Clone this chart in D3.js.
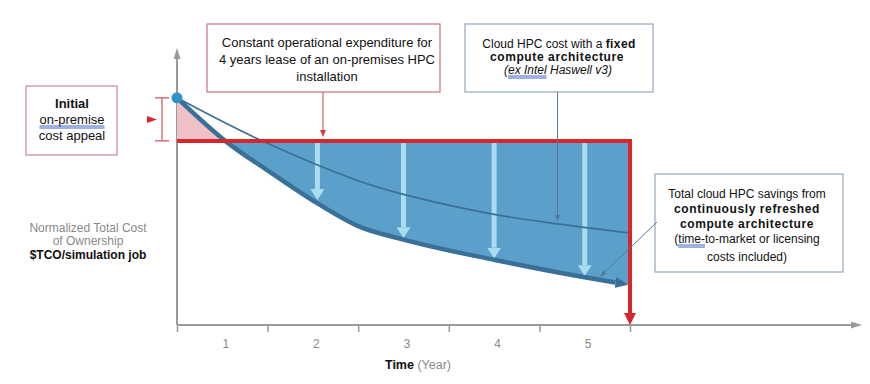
<!DOCTYPE html>
<html>
<head>
<meta charset="utf-8">
<script src="https://cdn.jsdelivr.net/npm/d3@7"></script>
<style>
  body { margin: 0; background: #fff; }
  svg { display: block; font-family: "Liberation Sans", Arial, sans-serif; }
</style>
</head>
<body>
<svg id="chart" width="870" height="384"></svg>
<script>
// ==========================================================================
// DATA (normalized TCO per simulation job, time in years)
// ==========================================================================
const years = [0, 1, 2, 3, 4, 5];
const tickLabels = ['1', '2', '3', '4', '5'];

const startCost = 1.0;
const onPremCost = 0.81;

// Cloud HPC cost, fixed compute architecture (thin line)
const fixedYears = [0, 0.92, 2.0, 2.5, 3.5, 4.2, 5.0];
const fixedCost  = [1.0, 0.814, 0.635, 0.575, 0.487, 0.445, 0.405];

// Cloud HPC cost, continuously refreshed architecture (thick line)
const refreshedYears = [0, 0.55, 1.0, 1.55, 2.0, 2.5, 3.5, 4.5, 4.84, 5.0];
const refreshedCost  = [1.0, 0.805, 0.68, 0.535, 0.435, 0.376, 0.287, 0.21, 0.187, 0.176];

// savings arrows
const arrowYears = [1.55, 2.5, 3.5, 4.5];
const arrowCost  = [0.55, 0.382, 0.292, 0.215];

// ==========================================================================
// SETUP
// ==========================================================================
const svg = d3.select('#chart');
const x = d3.scaleLinear().domain([0, 5]).range([177, 630]);
const y = d3.scaleLinear().domain([0, 1.25]).range([325, 41]);

const C = {
    axis: '#9a9a9a',
    red: '#d6272e',
    pink: '#efc1c7',
    blue: '#5b9fcb',
    dark: '#3a6f97',
    light: '#a9dcef',
    dot: '#2f94c2',
    grayText: '#8a8a8a'
};

const defs = svg.append('defs');
function marker(id, color, len, wid) {
    defs.append('marker')
        .attr('id', id)
        .attr('viewBox', '0 0 10 10')
        .attr('refX', 0).attr('refY', 5)
        .attr('markerUnits', 'userSpaceOnUse')
        .attr('markerWidth', len).attr('markerHeight', wid)
        .attr('preserveAspectRatio', 'none')
        .attr('orient', 'auto')
        .append('path')
        .attr('d', 'M0,0L10,5L0,10Z')
        .attr('fill', color);
}
marker('m-axis', C.axis, 11, 7);
marker('m-red', C.red, 12, 12);
marker('m-redthin', '#c9424a', 7, 6);
marker('m-dark', C.dark, 13, 11);
marker('m-light', C.light, 11, 14);
marker('m-note', '#55799a', 7, 5);

const refreshed = refreshedYears.map((t, i) => ({ t, v: refreshedCost[i] }));
const fixed = fixedYears.map((t, i) => ({ t, v: fixedCost[i] }));

// ==========================================================================
// AXES
// ==========================================================================
svg.append('line')
    .attr('x1', x(0)).attr('y1', y(0)).attr('x2', x(0)).attr('y2', 59)
    .attr('stroke', C.axis).attr('stroke-width', 2)
    .attr('marker-end', 'url(#m-axis)');
svg.append('line')
    .attr('x1', x(0)).attr('y1', y(0)).attr('x2', 851).attr('y2', y(0))
    .attr('stroke', C.axis).attr('stroke-width', 2)
    .attr('marker-end', 'url(#m-axis)');

const tickAxis = svg.append('g')
    .attr('transform', `translate(0,${y(0)})`)
    .call(d3.axisBottom(x).tickValues(years).tickSize(7).tickFormat(''));
tickAxis.select('.domain').remove();
tickAxis.selectAll('.tick line').attr('stroke', C.axis).attr('stroke-width', 1.5);

const labelAxis = svg.append('g')
    .attr('transform', `translate(3,${y(0)})`)
    .call(d3.axisBottom(x)
        .tickValues(tickLabels.map((d, i) => i + 0.5))
        .tickSize(0).tickPadding(14)
        .tickFormat((d, i) => tickLabels[i]));
labelAxis.select('.domain').remove();
labelAxis.selectAll('text')
    .attr('font-family', '"Liberation Sans", Arial, sans-serif')
    .attr('font-size', 12).attr('fill', C.grayText);

const xTitle = svg.append('text')
    .attr('x', 418).attr('y', 369).attr('text-anchor', 'middle')
    .attr('font-size', 12.5);
xTitle.append('tspan').attr('font-weight', 'bold').attr('fill', '#111').text('Time');
xTitle.append('tspan').attr('fill', C.grayText).text(' (Year)');

const yTitle = svg.append('text').attr('text-anchor', 'middle').attr('font-size', 12);
yTitle.append('tspan').attr('x', 88).attr('y', 232).attr('fill', C.grayText).text('Normalized Total Cost');
yTitle.append('tspan').attr('x', 88).attr('y', 245).attr('fill', C.grayText).text('of Ownership');
yTitle.append('tspan').attr('x', 88).attr('y', 259).attr('fill', '#111')
    .attr('font-weight', 'bold').text('$TCO/simulation job');

// ==========================================================================
// AREAS (pink above on-prem level, blue savings below it)
// ==========================================================================
defs.append('clipPath').attr('id', 'clip-above')
    .append('rect').attr('x', x(0)).attr('y', 0)
    .attr('width', x(5) - x(0)).attr('height', y(onPremCost));
defs.append('clipPath').attr('id', 'clip-below')
    .append('rect').attr('x', x(0)).attr('y', y(onPremCost))
    .attr('width', x(5) - x(0)).attr('height', y(0) - y(onPremCost));

const gapArea = d3.area()
    .x(d => x(d.t))
    .y0(y(onPremCost))
    .y1(d => y(d.v))
    .curve(d3.curveMonotoneX);

svg.append('path').datum(refreshed)
    .attr('d', gapArea).attr('fill', C.pink)
    .attr('clip-path', 'url(#clip-above)');
svg.append('path').datum(refreshed)
    .attr('d', gapArea).attr('fill', C.blue)
    .attr('clip-path', 'url(#clip-below)');

// savings arrows
svg.append('g').selectAll('line')
    .data(arrowYears.map((t, i) => ({ t, v: arrowCost[i] })))
    .enter().append('line')
    .attr('x1', d => x(d.t)).attr('x2', d => x(d.t))
    .attr('y1', y(onPremCost) + 2)
    .attr('y2', d => y(d.v) - 11)
    .attr('stroke', C.light).attr('stroke-width', 5)
    .attr('marker-end', 'url(#m-light)');

// ==========================================================================
// LINES
// ==========================================================================
const line = d3.line().x(d => x(d.t)).y(d => y(d.v)).curve(d3.curveMonotoneX);

svg.append('path').datum(fixed)
    .attr('d', d3.line().x(d => x(d.t)).y(d => y(d.v)).curve(d3.curveCatmullRom.alpha(0.5)))
    .attr('fill', 'none')
    .attr('stroke', C.dark).attr('stroke-width', 1.6);

svg.append('path').datum(refreshed.slice(0, -1))
    .attr('d', line).attr('fill', 'none')
    .attr('stroke', C.dark).attr('stroke-width', 4.5)
    .attr('stroke-linejoin', 'round')
    .attr('marker-end', 'url(#m-dark)');

// on-premise constant cost
svg.append('path')
    .attr('d', `M${x(0)},${y(onPremCost)}H${x(5)}V${y(0) - 12}`)
    .attr('fill', 'none').attr('stroke', C.red).attr('stroke-width', 4)
    .attr('marker-end', 'url(#m-red)');

svg.append('circle')
    .attr('cx', x(0)).attr('cy', y(startCost)).attr('r', 5.5)
    .attr('fill', C.dot);

// ==========================================================================
// ANNOTATIONS
// ==========================================================================
function box(x0, y0, w, h, stroke) {
    svg.append('rect').attr('x', x0).attr('y', y0).attr('width', w).attr('height', h)
        .attr('fill', '#fff').attr('stroke', stroke).attr('stroke-width', 1.2);
}
function underline(textNode, from, count, dy) {
    const start = textNode.getStartPositionOfChar(from).x;
    const len = textNode.getSubStringLength(from, count);
    const yy = textNode.getStartPositionOfChar(from).y + dy;
    [0, 2].forEach(o => svg.append('line')
        .attr('x1', start).attr('x2', start + len)
        .attr('y1', yy + o).attr('y2', yy + o)
        .attr('stroke', '#3f63bf').attr('stroke-width', 1));
}

// Initial cost appeal
box(26, 86, 91, 69, '#c98d95');
svg.append('text').attr('x', 72).attr('y', 108).attr('text-anchor', 'middle')
    .attr('font-size', 13).attr('font-weight', 'bold').attr('fill', '#111').text('Initial');
const onPrem = svg.append('text').attr('x', 72).attr('y', 124).attr('text-anchor', 'middle')
    .attr('font-size', 13).attr('fill', '#111').text('on-premise');
underline(onPrem.node(), 0, 10, 2);
svg.append('text').attr('x', 72).attr('y', 140).attr('text-anchor', 'middle')
    .attr('font-size', 13).attr('fill', '#111').text('cost appeal');

// bracket + pointer
const bx = 162;
const mid = (y(startCost) + y(onPremCost)) / 2;
svg.append('path')
    .attr('d', `M${bx - 7},${y(startCost)}H${bx + 7}M${bx},${y(startCost)}V${y(onPremCost)}M${bx - 7},${y(onPremCost)}H${bx + 7}`)
    .attr('fill', 'none').attr('stroke', '#cf5860').attr('stroke-width', 1.2);
svg.append('path')
    .attr('d', `M147,${mid - 3.5}L157,${mid}L147,${mid + 3.5}Z`)
    .attr('fill', C.red);

// Constant operational expenditure
box(207, 24, 233, 68, '#c9737c');
const opex = svg.append('text').attr('text-anchor', 'middle').attr('font-size', 13).attr('fill', '#111');
['Constant operational expenditure for', '4 years lease of an on-premises HPC', 'installation']
    .forEach((s, i) => opex.append('tspan').attr('x', 327).attr('y', 47 + i * 17).text(s));
svg.append('line')
    .attr('x1', 323).attr('y1', 92).attr('x2', 323).attr('y2', y(onPremCost) - 11)
    .attr('stroke', '#c9424a').attr('stroke-width', 1)
    .attr('marker-end', 'url(#m-redthin)');

// Cloud HPC fixed architecture
box(465, 24, 188, 68, '#93a9bc');
const fx = svg.append('text').attr('x', 559).attr('y', 48).attr('text-anchor', 'middle')
    .attr('font-size', 12).attr('fill', '#111');
fx.append('tspan').text('Cloud HPC cost with a ');
fx.append('tspan').attr('font-weight', 'bold').attr('letter-spacing', 0.4).text('fixed');
svg.append('text').attr('x', 557).attr('y', 61).attr('text-anchor', 'middle')
    .attr('font-size', 12).attr('font-weight', 'bold').attr('letter-spacing', 0.6)
    .attr('fill', '#111').text('compute architecture');
const ex = svg.append('text').attr('x', 558).attr('y', 74).attr('text-anchor', 'middle')
    .attr('font-size', 12).attr('font-style', 'italic').attr('fill', '#111')
    .text('(ex Intel Haswell v3)');
underline(ex.node(), 1, 8, 2);
const fixTip = fixed[5];
svg.append('line')
    .attr('x1', x(fixTip.t)).attr('y1', 92)
    .attr('x2', x(fixTip.t)).attr('y2', y(fixTip.v) - 9)
    .attr('stroke', '#55799a').attr('stroke-width', 1)
    .attr('marker-end', 'url(#m-note)');

// Total savings
box(655, 174, 188, 98, '#93a9bc');
const sv = svg.append('text').attr('text-anchor', 'middle').attr('font-size', 12).attr('fill', '#111');
sv.append('tspan').attr('x', 747).attr('y', 198).text('Total cloud HPC savings from');
sv.append('tspan').attr('x', 747).attr('y', 213).attr('font-weight', 'bold')
    .attr('letter-spacing', 0.6).text('continuously refreshed');
sv.append('tspan').attr('x', 747).attr('y', 228).attr('font-weight', 'bold')
    .attr('letter-spacing', 0.6).text('compute architecture');
const tm = svg.append('text').attr('x', 747).attr('y', 243).attr('text-anchor', 'middle')
    .attr('font-size', 12).attr('fill', '#111').text('(time-to-market or licensing');
underline(tm.node(), 1, 5, 2);
svg.append('text').attr('x', 747).attr('y', 261).attr('text-anchor', 'middle')
    .attr('font-size', 12).attr('fill', '#111').text('costs included)');
svg.append('line')
    .attr('x1', 657).attr('y1', 222).attr('x2', 605).attr('y2', 272)
    .attr('stroke', '#55799a').attr('stroke-width', 1)
    .attr('marker-end', 'url(#m-note)');
</script>
</body>
</html>
